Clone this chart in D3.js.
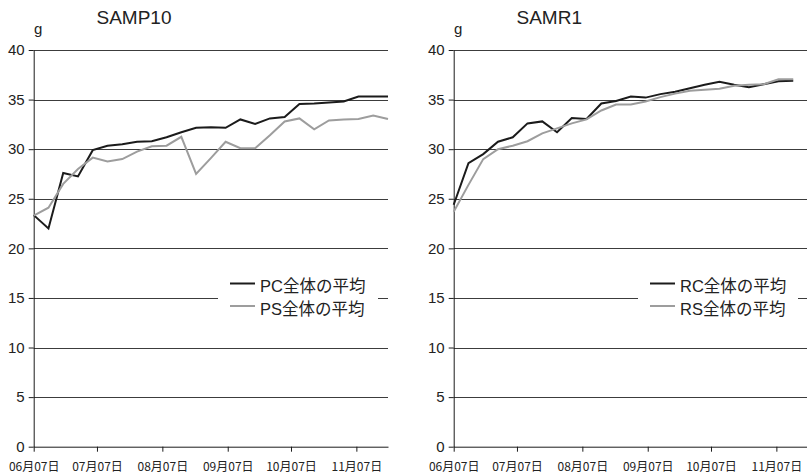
<!DOCTYPE html>
<html lang="ja">
  <head>
    <meta charset="utf-8">
    <title>SAMP10 / SAMR1</title>
    <style>
      body { margin: 0; background: #fff; }
    </style>
  </head>
  <body>
    <svg id="canvas"></svg>
    <script src="https://cdn.jsdelivr.net/npm/d3@7"></script>
    <script>

      const width = 807;
      const height = 474;

      // weekly measurement dates
      const dates = ["06-07", "06-14", "06-21", "06-28", "07-05", "07-12", "07-19", "07-26",
                     "08-02", "08-09", "08-16", "08-23", "08-30", "09-06", "09-13", "09-20",
                     "09-27", "10-04", "10-11", "10-18", "10-25", "11-01", "11-08", "11-15", "11-22"];

      const tickDates = ["06-07", "07-07", "08-07", "09-07", "10-07", "11-07"];
      const yTicks = [0, 5, 10, 15, 20, 25, 30, 35, 40];

      // SAMP10
      const pcValues = [23.35, 22.0, 27.6, 27.25, 29.9, 30.35, 30.5, 30.75, 30.8, 31.2, 31.7, 32.15, 32.2,
                        32.15, 33.0, 32.55, 33.1, 33.25, 34.55, 34.6, 34.7, 34.8, 35.3, 35.3, 35.3];
      const psValues = [23.3, 24.1, 26.5, 28.0, 29.15, 28.75, 29.0, 29.75, 30.3, 30.35, 31.25, 27.5, 29.1,
                        30.75, 30.1, 30.1, 31.4, 32.8, 33.1, 32.0, 32.9, 33.0, 33.05, 33.4, 33.05];

      // SAMR1
      const rcValues = [24.4, 28.6, 29.5, 30.75, 31.2, 32.6, 32.8, 31.7, 33.15, 33.05, 34.6, 34.85, 35.3,
                        35.2, 35.55, 35.8, 36.15, 36.5, 36.8, 36.5, 36.25, 36.55, 36.85, 36.9];
      const rsValues = [23.7, 26.4, 29.0, 30.0, 30.35, 30.8, 31.6, 32.1, 32.6, 33.0, 33.9, 34.5, 34.5,
                        34.8, 35.25, 35.6, 35.9, 36.0, 36.1, 36.4, 36.5, 36.55, 37.05, 37.05];

      const parse = d3.utcParse("%Y-%m-%d");
      const toDate = s => parse("2009-" + s);

      const svg = d3.select("#canvas")
        .attr("width", width)
        .attr("height", height)
        .attr("viewBox", [0, 0, width, height]);

      const latin = "'Liberation Sans', Arial, 'Noto Sans CJK JP', sans-serif";
      const cjk = "'Noto Sans CJK JP', sans-serif";
      const black = "#1b1b1b";
      const gray = "#9d9d9d";

      function panel(ox, title, series) {

        const g = svg.append("g");

        const x = d3.scaleUtc()
          .domain([toDate("06-07"), toDate("11-22")])
          .range([ox + 33.7, ox + 388]);

        const y = d3.scaleLinear()
          .domain([0, 40])
          .range([446.7, 50]);

        // grid lines
        g.append("g")
          .selectAll("line")
          .data(yTicks.filter(d => d > 0))
          .join("line")
            .attr("x1", x.range()[0])
            .attr("x2", x.range()[1])
            .attr("y1", d => Math.round(y(d)) + 0.5)
            .attr("y2", d => Math.round(y(d)) + 0.5)
            .attr("stroke", "#3c3c3c")
            .attr("stroke-width", 1);

        // y axis
        const yAxis = g.append("g")
          .attr("transform", `translate(${x.range()[0]},0)`)
          .call(d3.axisLeft(y).tickValues(yTicks).tickSize(5).tickSizeOuter(0).tickPadding(4));
        yAxis.select(".domain").attr("stroke", black);
        yAxis.selectAll(".tick line").attr("stroke", black);
        yAxis.selectAll("text")
          .attr("font-family", latin)
          .attr("font-size", 15)
          .attr("fill", "#222");

        // x axis
        const xAxis = g.append("g")
          .attr("transform", `translate(0,${y(0)})`)
          .call(d3.axisBottom(x)
            .tickValues(tickDates.map(toDate))
            .tickFormat(d3.utcFormat("%m月%d日"))
            .tickSize(5)
            .tickSizeOuter(0));
        xAxis.select(".domain").attr("stroke", black);
        xAxis.selectAll(".tick line").attr("stroke", black);
        xAxis.selectAll("text")
          .attr("font-family", cjk)
          .attr("font-size", 12)
          .attr("fill", "#222")
          .attr("y", 0)
          .attr("dy", 24.5);

        // keep labels inside the picture
        xAxis.selectAll("text").each(function() {
          const b = this.getBBox();
          const t = this.parentNode.transform.baseVal.consolidate().matrix.e;
          if (t + b.x < 0) d3.select(this).attr("x", -(t + b.x));
        });

        // unit and title
        g.append("text")
          .attr("x", ox + 34)
          .attr("y", 33.5)
          .attr("font-family", latin)
          .attr("font-size", 15)
          .attr("fill", "#222")
          .text("g");

        g.append("text")
          .attr("x", ox + 96.5)
          .attr("y", 24)
          .attr("font-family", latin)
          .attr("font-size", 19)
          .attr("fill", "#222")
          .text(title);

        // lines
        const line = d3.line()
          .x((d, i) => x(toDate(dates[i])))
          .y(d => y(d));

        series.forEach(s => {
          g.append("path")
            .datum(s.values)
            .attr("fill", "none")
            .attr("stroke", s.color)
            .attr("stroke-width", 2)
            .attr("stroke-linejoin", "miter")
            .attr("d", line);
        });

        // legend
        const legend = g.append("g");
        legend.append("rect")
          .attr("x", ox + 218)
          .attr("y", 268)
          .attr("width", 160)
          .attr("height", 52)
          .attr("fill", "#fff");

        series.forEach((s, i) => {
          const ly = 283.5 + i * 22.5;
          legend.append("line")
            .attr("x1", ox + 230)
            .attr("x2", ox + 255)
            .attr("y1", ly)
            .attr("y2", ly)
            .attr("stroke", s.color)
            .attr("stroke-width", 2);
          legend.append("text")
            .attr("x", ox + 260)
            .attr("y", ly + 8.5)
            .attr("font-family", latin)
            .attr("font-size", 16.5)
            .attr("fill", "#222")
            .text(s.name);
        });
      }

      panel(0, "SAMP10", [
        { name: "PC全体の平均", values: pcValues, color: black },
        { name: "PS全体の平均", values: psValues, color: gray }
      ]);

      panel(420, "SAMR1", [
        { name: "RC全体の平均", values: rcValues, color: black },
        { name: "RS全体の平均", values: rsValues, color: gray }
      ]);

    </script>
  </body>
</html>
